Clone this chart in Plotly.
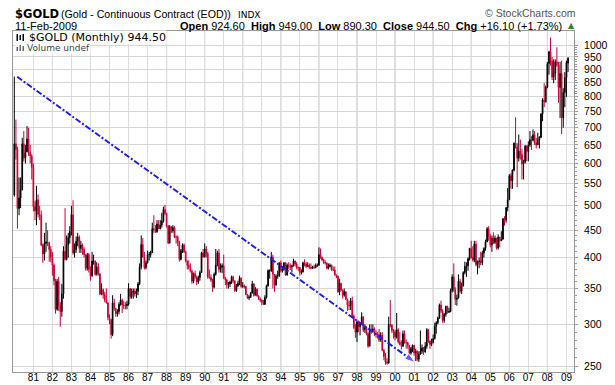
import math
import pandas as pd
import plotly.graph_objects as go

# ---------------- data (monthly, Jan 1980 - Feb 2009) ----------------
first_open = 524.0
last_open = 924.60   # header "Open" of the current (Feb 2009) bar

closes = [
    653, 637, 494, 517, 535, 653, 614, 631, 667, 629, 620, 590,   # 1980
    498, 489, 513, 482, 480, 422, 406, 425, 428, 427, 414, 400,   # 1981
    387, 362, 320, 361, 326, 317, 342, 411, 397, 423, 436, 448,   # 1982
    481, 408, 414, 429, 437, 416, 422, 414, 405, 382, 405, 380,   # 1983
    370, 394, 394, 372, 384, 373, 342, 348, 341, 333, 329, 309,   # 1984
    306, 287, 329, 321, 314, 317, 327, 333, 326, 325, 325, 327,   # 1985
    350, 338, 344, 346, 342, 346, 357, 384, 423, 401, 383, 391,   # 1986
    405, 405, 409, 453, 451, 447, 462, 453, 460, 468, 492, 484,   # 1987
    458, 426, 457, 449, 455, 437, 437, 427, 397, 412, 422, 410,   # 1988
    394, 387, 383, 377, 361, 373, 368, 360, 367, 375, 408, 401,   # 1989
    415, 407, 368, 367, 363, 352, 372, 387, 408, 380, 384, 386,   # 1990
    366, 363, 356, 357, 360, 368, 362, 347, 354, 358, 366, 353,   # 1991
    354, 353, 341, 336, 337, 343, 357, 340, 349, 339, 334, 333,   # 1992
    330, 327, 337, 354, 378, 378, 401, 372, 355, 369, 370, 391,   # 1993
    378, 381, 391, 371, 387, 386, 384, 386, 394, 389, 383, 383,   # 1994
    375, 376, 391, 389, 385, 387, 383, 382, 384, 383, 387, 387,   # 1995
    405, 400, 396, 392, 391, 382, 385, 387, 379, 379, 371, 369,   # 1996
    345, 358, 348, 340, 345, 334, 326, 325, 332, 311, 296, 290,   # 1997
    303, 297, 301, 310, 293, 296, 288, 273, 294, 292, 294, 288,   # 1998
    287, 287, 280, 286, 268, 261, 255, 254, 300, 299, 292, 290,   # 1999
    284, 293, 278, 275, 273, 288, 277, 277, 274, 265, 270, 274,   # 2000
    265, 267, 258, 264, 267, 271, 266, 273, 293, 279, 275, 277,   # 2001
    282, 297, 302, 308, 326, 318, 305, 313, 324, 316, 317, 347,   # 2002
    368, 348, 334, 336, 361, 346, 354, 375, 385, 386, 398, 416,   # 2003
    400, 396, 424, 388, 393, 394, 391, 408, 416, 428, 453, 438,   # 2004
    422, 435, 427, 435, 417, 437, 430, 433, 473, 470, 496, 513,   # 2005
    569, 557, 583, 655, 645, 614, 633, 624, 599, 604, 647, 632,   # 2006
    650, 665, 663, 679, 656, 650, 665, 672, 743, 789, 783, 834,   # 2007
    923, 971, 933, 871, 885, 930, 918, 833, 884, 730, 815, 869,   # 2008
    928.4, 944.5,                                                 # 2009
]

highs = [
    873, 725, 645, 565, 565, 670, 690, 650, 705, 700, 650, 625,
    600, 510, 545, 525, 500, 490, 425, 445, 465, 450, 428, 420,
    410, 390, 365, 365, 368, 330, 357, 420, 495, 440, 445, 458,
    500, 512, 425, 438, 445, 440, 430, 425, 418, 405, 408, 408,
    385, 410, 405, 395, 392, 390, 373, 358, 350, 345, 350, 330,
    313, 307, 340, 335, 322, 320, 330, 342, 335, 332, 330, 332,
    358, 350, 350, 350, 350, 350, 360, 390, 440, 435, 410, 395,
    412, 410, 412, 465, 480, 460, 470, 470, 470, 485, 498, 502,
    485, 460, 460, 458, 460, 458, 440, 440, 430, 415, 425, 425,
    412, 395, 395, 390, 380, 375, 378, 370, 370, 378, 410, 415,
    425, 420, 410, 380, 372, 365, 375, 415, 412, 415, 390, 390,
    405, 368, 365, 360, 362, 370, 370, 362, 357, 362, 370, 367,
    360, 356, 354, 342, 340, 345, 362, 358, 352, 350, 340, 337,
    334, 333, 340, 356, 380, 380, 410, 405, 372, 372, 378, 392,
    395, 385, 392, 392, 390, 392, 390, 388, 398, 395, 392, 385,
    384, 380, 393, 397, 392, 392, 390, 390, 386, 388, 390, 390,
    418, 416, 402, 398, 395, 391, 390, 390, 388, 385, 385, 372,
    370, 365, 358, 348, 350, 346, 335, 332, 336, 338, 313, 300,
    305, 305, 302, 316, 310, 300, 296, 290, 300, 300, 300, 296,
    292, 290, 294, 290, 290, 270, 265, 259, 310, 333, 300, 294,
    293, 315, 295, 290, 280, 292, 292, 281, 278, 274, 272, 275,
    274, 270, 268, 267, 292, 275, 272, 278, 295, 294, 280, 282,
    287, 302, 304, 310, 328, 332, 320, 315, 325, 325, 322, 350,
    372, 390, 352, 341, 372, 365, 359, 377, 393, 392, 400, 417,
    430, 420, 430, 430, 395, 400, 410, 412, 418, 432, 456, 458,
    443, 440, 446, 440, 435, 442, 437, 448, 474, 478, 497, 540,
    573, 575, 585, 657, 732, 655, 680, 665, 640, 610, 650, 648,
    660, 690, 675, 695, 690, 670, 685, 675, 745, 795, 848, 840,
    930, 975, 1033, 950, 940, 940, 990, 930, 930, 935, 830, 890,
    935, 949.0,
]

lows = [
    520, 610, 453, 480, 495, 535, 605, 600, 630, 620, 600, 560,
    488, 470, 460, 475, 470, 420, 391, 395, 410, 420, 393, 392,
    370, 355, 314, 318, 318, 297, 310, 335, 395, 395, 400, 425,
    440, 405, 400, 408, 420, 408, 408, 405, 400, 378, 378, 375,
    362, 368, 388, 370, 370, 370, 340, 340, 335, 330, 328, 305,
    300, 282, 285, 318, 310, 310, 313, 325, 315, 320, 320, 320,
    325, 335, 335, 335, 338, 336, 340, 355, 380, 400, 380, 380,
    390, 395, 400, 408, 445, 445, 445, 452, 452, 455, 465, 480,
    455, 424, 425, 445, 445, 435, 425, 420, 393, 395, 408, 408,
    392, 380, 380, 375, 357, 358, 365, 355, 357, 362, 375, 400,
    400, 400, 365, 365, 360, 345, 350, 370, 385, 375, 375, 374,
    365, 355, 350, 350, 352, 357, 358, 345, 345, 352, 355, 351,
    351, 350, 340, 335, 333, 336, 343, 338, 340, 338, 333, 330,
    326, 326, 326, 335, 353, 365, 376, 350, 345, 355, 365, 368,
    375, 375, 378, 370, 370, 380, 379, 375, 385, 385, 380, 377,
    370, 372, 375, 385, 382, 384, 381, 380, 381, 381, 382, 384,
    386, 398, 394, 389, 388, 380, 380, 383, 378, 378, 370, 366,
    344, 340, 346, 335, 338, 333, 318, 319, 319, 308, 294, 283,
    278, 290, 286, 300, 290, 289, 286, 271, 273, 288, 290, 285,
    283, 282, 278, 278, 267, 257, 252, 252, 253, 296, 289, 282,
    280, 282, 276, 274, 269, 272, 276, 270, 270, 263, 263, 266,
    262, 256, 256, 255, 263, 264, 263, 266, 270, 277, 270, 273,
    277, 281, 288, 300, 307, 315, 302, 302, 310, 314, 315, 316,
    344, 345, 326, 325, 335, 343, 342, 353, 372, 368, 378, 395,
    398, 393, 392, 385, 372, 382, 387, 387, 400, 412, 428, 430,
    418, 410, 424, 424, 414, 414, 418, 430, 432, 459, 465, 488,
    513, 538, 538, 580, 640, 542, 605, 610, 560, 560, 600, 606,
    606, 645, 636, 660, 650, 640, 650, 640, 670, 720, 765, 780,
    830, 880, 915, 860, 848, 860, 910, 780, 730, 681, 700, 765,
    800, 890.3,
]

# trend line drawn on the chart: from the 1980 high to the 2001 low
trend_dates = ["1980-02-25", "2001-01-20"]
trend_prices = [872, 254.5]

y_ticks = [250, 300, 350, 400, 450, 500, 550, 600, 650, 700, 750,
           800, 850, 900, 950, 1000]
x_tick_years = list(range(1981, 2010))

# ---------------- build ----------------
dates = pd.date_range("1980-01-01", periods=len(closes), freq="MS")
opens = [first_open] + closes[:-1]
opens[-1] = last_open
highs = [max(h, o, c) for h, o, c in zip(highs, opens, closes)]
lows = [min(l, o, c) for l, o, c in zip(lows, opens, closes)]

RED = "#CC0033"
fig = go.Figure()
fig.add_trace(go.Candlestick(
    x=dates, open=opens, high=highs, low=lows, close=closes,
    increasing=dict(line=dict(color="#000000", width=1), fillcolor="#000000"),
    decreasing=dict(line=dict(color=RED, width=1), fillcolor=RED),
    whiskerwidth=0, showlegend=False, hoverinfo="skip",
))

BLUE = "#1a1aff"
fig.add_trace(go.Scatter(
    x=trend_dates, y=trend_prices, mode="lines+markers",
    line=dict(color=BLUE, width=2, dash="6px,2px,2px,2px"),
    marker=dict(symbol="arrow", size=[0, 11], angleref="previous", color=BLUE),
    showlegend=False, hoverinfo="skip",
))

# darker gridlines on even years
for yr in x_tick_years:
    if yr % 2 == 0:
        fig.add_shape(type="line", xref="x", yref="paper",
                      x0=f"{yr}-01-01", x1=f"{yr}-01-01", y0=0, y1=1,
                      line=dict(color="#BDBDBD", width=1), layer="between")

# plot box in pixels
L, R, T, B = 13, 574, 31, 372
W, H = 615, 385
PW, PH = R - L, B - T


def px(x):
    return (x - L) / PW


def py(y):
    return (B - y) / PH


FONT = "Liberation Sans, Arial, sans-serif"
ann = []
ann.append(dict(x=px(13), y=py(13.5), text="<b>$GOLD</b>",
                font=dict(family="DejaVu Sans", size=11.5, color="#000")))
ann.append(dict(x=px(59), y=py(14), text="(Gold - Continuous Contract (EOD))",
                font=dict(family=FONT, size=10.7, color="#000")))
ann.append(dict(x=px(236), y=py(14.5), text="INDX",
                font=dict(family="DejaVu Sans", size=9, color="#000")))
ann.append(dict(x=px(13), y=py(25.5), text="11-Feb-2009",
                font=dict(family=FONT, size=11, color="#000")))
ann.append(dict(x=px(564), y=py(25.5),
                text=("<b>Open</b> 924.60&nbsp; <b>High</b> 949.00&nbsp; "
                      "<b>Low</b> 890.30&nbsp; <b>Close</b> 944.50&nbsp; "
                      "<b>Chg</b> +16.10 (+1.73%)"),
                font=dict(family=FONT, size=11, color="#000"),
                xanchor="right"))
ann.append(dict(x=px(566), y=py(25), text="▲",
                font=dict(family="DejaVu Sans", size=8, color="#3C7A3C")))
ann.append(dict(x=px(483), y=py(12.5), text="© StockCharts.com",
                font=dict(family=FONT, size=10.5, color="#555555")))
# in-chart legend
ann.append(dict(x=px(28), y=py(37.5), text="$GOLD (Monthly) 944.50",
                font=dict(family="DejaVu Sans", size=11, color="#000"),
                bgcolor="white", borderpad=0))
ann.append(dict(x=px(26), y=py(48.5), text="Volume undef",
                font=dict(family="DejaVu Sans", size=9, color="#444444"),
                bgcolor="white", borderpad=0))
for a in ann:
    a.setdefault("xanchor", "left")
    a.update(xref="paper", yref="paper", yanchor="middle", showarrow=False)

# small legend icons
icon_shapes = [
    dict(x0=15.5, x1=27, y0=32, y1=43, fill="white", line="white"),
    dict(x0=15.5, x1=27, y0=43.5, y1=52, fill="white", line="white"),
    dict(x0=16.5, x1=18, y0=34, y1=41, fill="#000", line="#000"),
    dict(x0=19.5, x1=21, y0=35, y1=40, fill="#000", line="#000"),
    dict(x0=22.5, x1=24, y0=34, y1=41, fill="#000", line="#000"),
    dict(x0=16.5, x1=18, y0=47, y1=51, fill="#666", line="#666"),
    dict(x0=19.5, x1=21, y0=45, y1=51, fill="#666", line="#666"),
    dict(x0=22.5, x1=24, y0=46, y1=51, fill="#666", line="#666"),
]
for s in icon_shapes:
    fig.add_shape(type="rect", xref="paper", yref="paper",
                  x0=px(s["x0"]), x1=px(s["x1"]), y0=py(s["y1"]), y1=py(s["y0"]),
                  fillcolor=s["fill"], line=dict(color=s["line"], width=0),
                  layer="above")

fig.update_layout(
    width=W, height=H,
    margin=dict(l=L, r=W - R, t=T, b=H - B, autoexpand=False),
    paper_bgcolor="white", plot_bgcolor="white",
    showlegend=False,
    annotations=ann,
    xaxis=dict(
        type="date", automargin=False,
        range=["1979-12-07", "2009-05-26"],
        rangeslider=dict(visible=False),
        tickmode="array",
        tickvals=[f"{y}-01-01" for y in x_tick_years],
        ticktext=[f"{y % 100:02d}" for y in x_tick_years],
        showgrid=True, gridcolor="#DDDDDD", gridwidth=1,
        showline=True, linecolor="#9A9A9A", linewidth=1, mirror=True,
        ticks="", ticklabelstandoff=-4,
        tickfont=dict(family=FONT, size=10, color="#000"),
        zeroline=False, fixedrange=True,
    ),
    yaxis=dict(
        type="log", side="right", automargin=False,
        range=[math.log10(244.2), math.log10(1062.3)],
        tickmode="array", tickvals=y_ticks, ticktext=[str(v) for v in y_ticks],
        showgrid=True, gridcolor="#D6D6D6", gridwidth=1,
        showline=True, linecolor="#9A9A9A", linewidth=1, mirror=True,
        ticks="outside", ticklen=3, tickcolor="#9A9A9A",
        ticklabelstandoff=4,
        minor=dict(tickmode="array",
                   tickvals=[v for v in range(250, 1001, 10) if v % 50],
                   ticks="outside", ticklen=2, tickcolor="#9A9A9A",
                   showgrid=False),
        tickfont=dict(family=FONT, size=10.5, color="#000"),
        zeroline=False, fixedrange=True,
    ),
)

fig.write_html(
    "out.html",
    config={"displayModeBar": False, "staticPlot": True},
    post_script="document.body.style.margin='0';document.body.style.padding='0';",
)
